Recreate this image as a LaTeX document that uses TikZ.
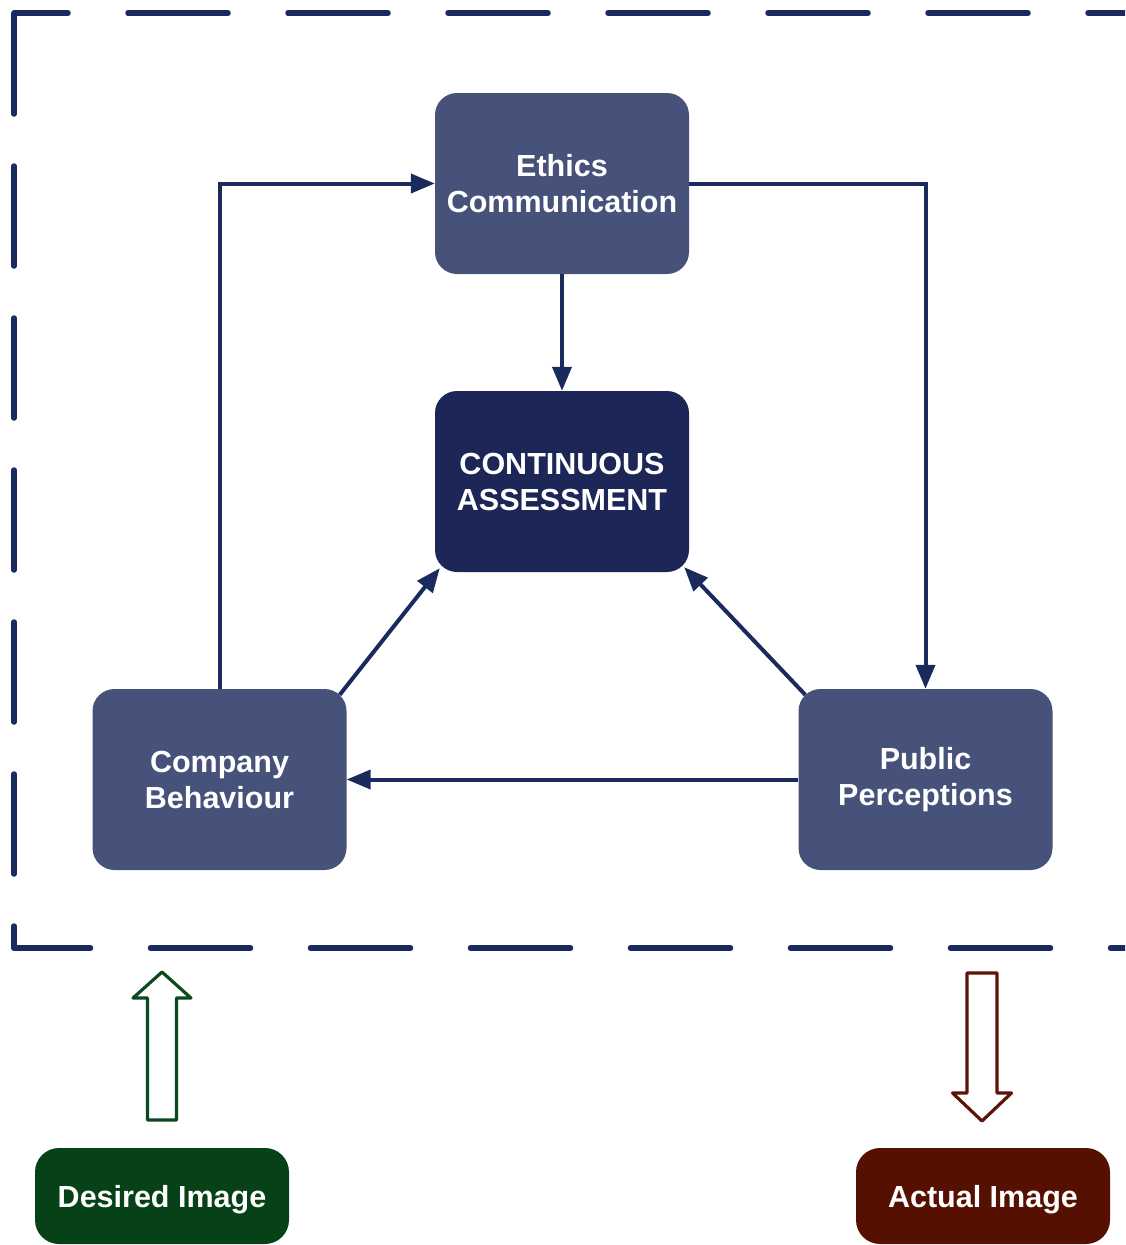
\documentclass[tikz,border=0pt]{standalone}
\usepackage{fontspec}
\setmainfont{Liberation Sans}
\usetikzlibrary{arrows.meta}
\definecolor{boxblue}{HTML}{465279}
\definecolor{darkblue}{HTML}{1C2757}
\definecolor{linecol}{HTML}{1A2A5C}
\definecolor{greenbox}{HTML}{064117}
\definecolor{brownbox}{HTML}{561002}
\definecolor{greenline}{HTML}{0A4A1E}
\definecolor{brownline}{HTML}{5A1408}
\tikzset{
  box/.style={rectangle, rounded corners=22pt, fill=boxblue, text=white,
    minimum width=254pt, minimum height=181pt, align=center,
    font=\fontsize{30.5}{36}\selectfont\bfseries},
  darkbox/.style={box, fill=darkblue},
  labelbox/.style={rectangle, rounded corners=24pt, text=white,
    minimum width=254pt, minimum height=96pt, align=center,
    font=\fontsize{30.5}{36}\selectfont\bfseries},
  conn/.style={draw=linecol, line width=4pt,
    -{Triangle[length=24pt,width=19pt]}},
  border/.style={draw=linecol, line width=5.5pt, line cap=round},
  hollow/.style={line width=3.2pt, fill=white, line join=round}
}
\begin{document}
\begin{tikzpicture}[x=1pt,y=-1pt]
\useasboundingbox (0,0) rectangle (1125,1245);
\clip (0,0) rectangle (1125,1245);
% dashed frame
\draw[border, dash pattern=on 100pt off 60pt, dash phase=46pt] (14,13) -- (1160,13);
\draw[border, dash pattern=on 100pt off 52pt] (14,14) -- (14,948);
\draw[border, dash pattern=on 100pt off 60pt, dash phase=23.5pt] (14,948) -- (1160,948);
% nodes
\node[box] (eth) at (562,183.5) {Ethics\\Communication};
\node[darkbox] (cont) at (562,481.5) {CONTINUOUS\\ASSESSMENT};
\node[box] (comp) at (219.5,779.5) {Company\\Behaviour};
\node[box] (pub) at (925.5,779.5) {Public\\Perceptions};
\node[labelbox, fill=greenbox] (des) at (162,1196) {\raisebox{-11pt}[0pt][0pt]{Desired Image}};
\node[labelbox, fill=brownbox] (act) at (983,1196) {\raisebox{-11pt}[0pt][0pt]{Actual Image}};
% connectors
\draw[conn] (eth.south) -- (cont.north);
\draw[conn] (comp.north) |- (eth.west);
\draw[conn] (eth.east) -| (pub.north);
\draw[conn] (pub.west) -- (comp.east);
\draw[conn] ([xshift=-7pt,yshift=-6pt]comp.north east) -- ([xshift=5pt,yshift=4pt]cont.south west);
\draw[conn] ([xshift=7pt,yshift=-6pt]pub.north west) -- ([xshift=-5pt,yshift=5pt]cont.south east);
% hollow arrows
\draw[hollow, draw=greenline] (147.5,1120) -- (147.5,998) -- (133,998) -- (162,972) -- (191,998) -- (176.5,998) -- (176.5,1120) -- cycle;
\draw[hollow, draw=brownline] (967,973) -- (997,973) -- (997,1093) -- (1011.5,1093) -- (982,1121) -- (952.5,1093) -- (967,1093) -- cycle;
\end{tikzpicture}
\end{document}
